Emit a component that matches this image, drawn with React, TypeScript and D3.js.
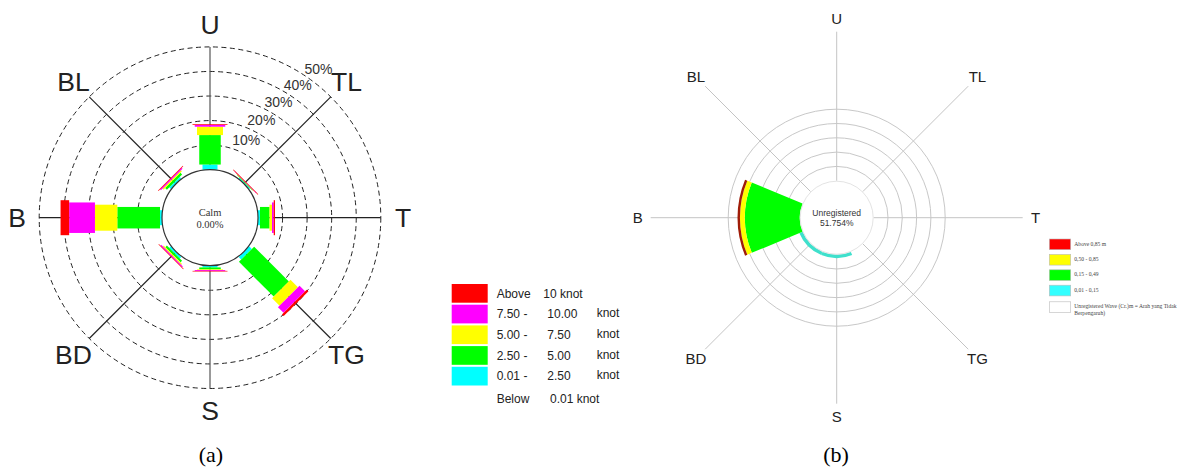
import React from "react";
import * as d3 from "d3";

// ---------- data (a) wind rose ----------
const dirLabels = ["U", "TL", "T", "TG", "S", "BD", "B", "BL"];
const dirAngles = [0, 45, 90, 135, 180, 225, 270, 315];
const windClasses = ["c1", "c2", "c3", "c4", "c5"]; // 0.01-2.5, 2.5-5, 5-7.5, 7.5-10, >10
const windColors = ["#00ffff", "#00ff00", "#ffff00", "#ff00ff", "#ff0000"];
const windC1 = [2.1, 0.5, 0.8, 1.5, 0.7, 0.9, 0.8, 0.9];
const windC2 = [12.0, 0.25, 3.9, 20.0, 0.8, 0.9, 17.4, 1.0];
const windC3 = [3.4, 0.15, 1.0, 4.3, 0.3, 0.5, 9.1, 0.6];
const windC4 = [0.7, 0.15, 0.7, 3.2, 0.4, 0.5, 10.5, 0.5];
const windC5 = [0.3, 0.05, 0.5, 1.0, 0.15, 0.2, 3.5, 0.25];
const ringTicks = [10, 20, 30, 40, 50];
const windLegendRows = [
  ["Above", "10 knot", ""],
  ["7.50 -", "10.00", "knot"],
  ["5.00 -", "7.50", "knot"],
  ["2.50 -", "5.00", "knot"],
  ["0.01 -", "2.50", "knot"],
];
const windLegendColors = ["#ff0000", "#ff00ff", "#ffff00", "#00ff00", "#00ffff"];

// ---------- data (b) wave rose ----------
const waveClasses = ["w1", "w2", "w3", "w4"]; // 0.01-0.15, 0.15-0.49, 0.50-0.85, >0.85
const waveColors = ["#3fe0cc", "#00ff00", "#ffff00", "#a01c08"];
const waveW1 = [0, 0, 0, 0, 2.4, 2.35, 0, 0];
const waveW2 = [0, 0, 0, 0, 0, 0, 38.4, 0];
const waveW3 = [0, 0, 0, 0, 0, 0, 3.4, 0];
const waveW4 = [0, 0, 0, 0, 0, 0, 1.7, 0];
const waveRings = [10, 20, 30, 40, 50];
const waveLegendLabels = [
  "Above 0,85 m",
  "0,50 - 0,85",
  "0,15 - 0,49",
  "0,01 - 0,15",
  "Unregistered Wave (Cr.)m = Arah yang Tidak",
];
const waveLegendColors = ["#ff0000", "#ffff00", "#00ff00", "#33ffff", "#ffffff"];
const unregisteredPct = "51.754%";

const W = 1189;
const H = 474;

export default function App() {
  // ----- (a) -----
  const cxA = 210, cyA = 217.7;
  const calmR = 48;
  const rA = d3.scaleLinear().domain([0, 50]).range([calmR, 170.8]);
  const barWidths = [15, 21.5, 26, 30.5, 35];
  const rowsA = dirLabels.map((d, i) => ({
    dir: d,
    c1: windC1[i], c2: windC2[i], c3: windC3[i], c4: windC4[i], c5: windC5[i],
  }));
  const stackA = d3.stack<any>().keys(windClasses)(rowsA);

  // ----- (b) -----
  const cxB = 836.7, cyB = 217.7;
  const innerB = 37;
  const rB = d3.scaleLinear().domain([0, 10]).range([innerB, innerB + 14.3]);
  const rowsB = dirLabels.map((d, i) => ({
    dir: d, w1: waveW1[i], w2: waveW2[i], w3: waveW3[i], w4: waveW4[i],
  }));
  const stackB = d3.stack<any>().keys(waveClasses)(rowsB);
  const arcB = d3.arc<any>();
  const toRad = (deg: number) => (deg * Math.PI) / 180;
  const half = Math.PI / 8;

  const polar = (cx: number, cy: number, r: number, deg: number) => [
    cx + r * Math.sin(toRad(deg)),
    cy - r * Math.cos(toRad(deg)),
  ];

  return (
    <svg
      width={W}
      height={H}
      style={{ position: "absolute", left: 0, top: 0, background: "#fff" }}
    >
      <rect x={0} y={0} width={W} height={H} fill="#fff" />
      {/* ================= (a) ================= */}
      <g>
        {ringTicks.map((t) => (
          <circle
            key={t}
            cx={cxA}
            cy={cyA}
            r={rA(t)}
            fill="none"
            stroke="#222"
            strokeWidth={1}
            strokeDasharray="5,3.5"
          />
        ))}
        {dirAngles.map((a, i) => {
          const [x1, y1] = polar(cxA, cyA, calmR, a);
          const [x2, y2] = polar(cxA, cyA, rA(50), a);
          return (
            <line key={i} x1={x1} y1={y1} x2={x2} y2={y2} stroke={a % 180 === 0 ? "#555" : "#222"} strokeWidth={1.2} />
          );
        })}
        {stackA.map((series, k) =>
          series.map((seg, i) => {
            const r0 = rA(seg[0]);
            const r1 = rA(seg[1]);
            const w = barWidths[k];
            return (
              <rect
                key={`${k}-${i}`}
                transform={`translate(${cxA},${cyA}) rotate(${dirAngles[i]})`}
                x={-w / 2}
                y={-r1}
                width={w}
                height={Math.max(r1 - r0, 0.6)}
                fill={windColors[k]}
              />
            );
          })
        )}
        <circle cx={cxA} cy={cyA} r={calmR} fill="#fff" stroke="#333" strokeWidth={1.2} />
        <text x={cxA} y={216} textAnchor="middle" fontFamily="Liberation Serif" fontSize={10.5} fill="#333">Calm</text>
        <text x={cxA} y={228} textAnchor="middle" fontFamily="Liberation Serif" fontSize={10.5} fill="#333">0.00%</text>
        {ringTicks.map((t, k) => {
          const [x, y] = polar(cxA, cyA, rA(t) + 13, 25 + k * 2.8);
          return (
            <text key={t} x={x} y={y + 5} textAnchor="middle" fontFamily="Liberation Sans" fontSize={14} fill="#333">
              {t}%
            </text>
          );
        })}
        {dirLabels.map((d, i) => {
          const [x, y] = polar(cxA, cyA, 193, dirAngles[i]);
          return (
            <text key={d} x={x} y={y + 9.5} textAnchor="middle" fontFamily="Liberation Sans" fontSize={26.5} fill="#222">
              {d}
            </text>
          );
        })}
        {/* legend (a) */}
        {windLegendRows.map((row, i) => {
          const top = 284 + i * 20.7;
          const ty = top + 13.5;
          return (
            <g key={i}>
              <rect x={451.7} y={top} width={36} height={18.7} fill={windLegendColors[i]} />
              <text x={496.7} y={ty} fontFamily="Liberation Sans" fontSize={12} fill="#222">{row[0]}</text>
              <text x={i === 0 ? 543.3 : 547.3} y={ty} fontFamily="Liberation Sans" fontSize={12} fill="#222">{row[1]}</text>
              {row[2] && (
                <text x={596.7} y={i === 0 ? ty : ty - 1} fontFamily="Liberation Sans" fontSize={12} fill="#222">{row[2]}</text>
              )}
            </g>
          );
        })}
        <text x={496.7} y={284 + 5 * 20.7 + 15} fontFamily="Liberation Sans" fontSize={12} fill="#222">Below</text>
        <text x={550} y={284 + 5 * 20.7 + 15} fontFamily="Liberation Sans" fontSize={12} fill="#222">0.01 knot</text>
        <text x={211} y={462} textAnchor="middle" fontFamily="Liberation Serif" fontSize={22} fill="#000">(a)</text>
      </g>

      {/* ================= (b) ================= */}
      <g>
        {waveRings.map((t) => (
          <circle key={t} cx={cxB} cy={cyB} r={rB(t)} fill="none" stroke="#c8c8c8" strokeWidth={1} />
        ))}
        {dirAngles.map((a, i) => {
          const [x1, y1] = polar(cxB, cyB, innerB, a);
          const [x2, y2] = polar(cxB, cyB, 186, a);
          return <line key={i} x1={x1} y1={y1} x2={x2} y2={y2} stroke="#c4c4c4" strokeWidth={1} />;
        })}
        <g transform={`translate(${cxB},${cyB})`}>
          {stackB.map((series, k) =>
            series.map((seg, i) => {
              if (seg[1] - seg[0] <= 0) return null;
              const ang = toRad(dirAngles[i]);
              const d = arcB({
                innerRadius: rB(seg[0]),
                outerRadius: rB(seg[1]),
                startAngle: ang - half,
                endAngle: ang + half,
              });
              return <path key={`${k}-${i}`} d={d || ""} fill={waveColors[k]} />;
            })
          )}
        </g>
        <circle cx={cxB} cy={cyB} r={innerB - 0.5} fill="#fff" stroke="#d0d0d0" strokeWidth={0.6} />
        <text x={cxB} y={216} textAnchor="middle" fontFamily="Liberation Sans" fontSize={8.5} fill="#333">Unregistered</text>
        <text x={cxB} y={226} textAnchor="middle" fontFamily="Liberation Sans" fontSize={8.5} fill="#333">{unregisteredPct}</text>
        {dirLabels.map((d, i) => {
          const [x, y] = polar(cxB, cyB, 199, dirAngles[i]);
          return (
            <text key={d} x={x} y={y + 5.5} textAnchor="middle" fontFamily="Liberation Sans" fontSize={15} fill="#222">
              {d}
            </text>
          );
        })}
        {/* legend (b) */}
        {waveLegendLabels.map((lab, i) => {
          const top = 239 + i * 15.4 + (i === 4 ? 1.2 : 0);
          return (
            <g key={i}>
              <rect x={1049.3} y={top} width={21.4} height={10.7} fill={waveLegendColors[i]} stroke="#bbb" strokeWidth={0.6} />
              <text x={1074.3} y={top + 6.5} fontFamily="Liberation Serif" fontSize={5.6} fill="#444">{lab}</text>
              {i === 4 && (
                <text x={1074.3} y={top + 13} fontFamily="Liberation Serif" fontSize={5.6} fill="#444">Berpengaruh)</text>
              )}
            </g>
          );
        })}
        <text x={836} y={462} textAnchor="middle" fontFamily="Liberation Serif" fontSize={22} fill="#000">(b)</text>
      </g>
    </svg>
  );
}
